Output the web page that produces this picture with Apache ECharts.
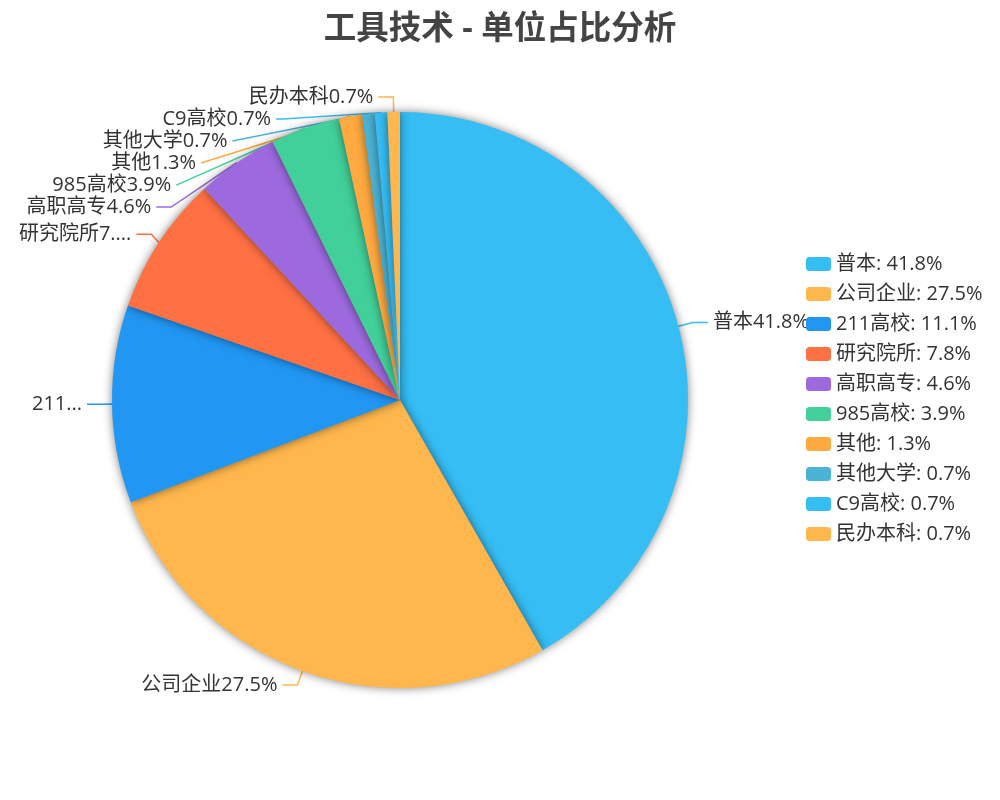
<!DOCTYPE html>
<html><head><meta charset="utf-8">
<script src="https://cdn.jsdelivr.net/npm/echarts@6/dist/echarts.min.js"></script>
<style>html,body{margin:0;padding:0;background:#fff}#c{width:1000px;height:800px}</style>
</head><body><div id="c"></div>
<script>
var categories = ['普本','公司企业','211高校','研究院所','高职高专','985高校','其他','其他大学','C9高校','民办本科'];
var values = [41.8,27.5,11.1,7.8,4.6,3.9,1.3,0.7,0.7,0.7];
var palette = ['#36BDF3','#FFB74D','#2196F3','#FF7043','#9C6ADE','#42D09A','#FFAA40','#4AB4D6'];
var titleText = '工具技术 - 单位占比分析';

var valMap = {};
categories.forEach(function(c,i){ valMap[c] = values[i]; });
var data = categories.map(function(c,i){ return {name:c, value:values[i]}; });
var font = '"Open Sans", "Noto Sans CJK SC", sans-serif';
var chart = echarts.init(document.getElementById('c'));
chart.setOption({
  color: palette,
  textStyle: {fontFamily: font},
  title: {text: titleText, left: 'center', top: 8,
    textStyle: {fontSize: 32.5, fontWeight: 'bold', color: '#444', fontFamily: font}},
  legend: {orient: 'vertical', left: 801, top: 249, itemGap: 10, itemWidth: 25, itemHeight: 14,
    textStyle: {fontSize: 20, color: '#333', fontFamily: font},
    formatter: function(n){ return n + ': ' + valMap[n] + '%'; }},
  series: [{
    type: 'pie', center: ['40%','50%'], radius: '72%',
    data: data,
    itemStyle: {shadowBlur: 10, shadowColor: 'rgba(0,0,0,0.5)'},
    label: {formatter: '{b}{c}%', fontSize: 20, color: '#333', fontFamily: font},
    labelLine: {length: 15, length2: 15, lineStyle: {width: 1.5}}
  }]
});
</script></body></html>
